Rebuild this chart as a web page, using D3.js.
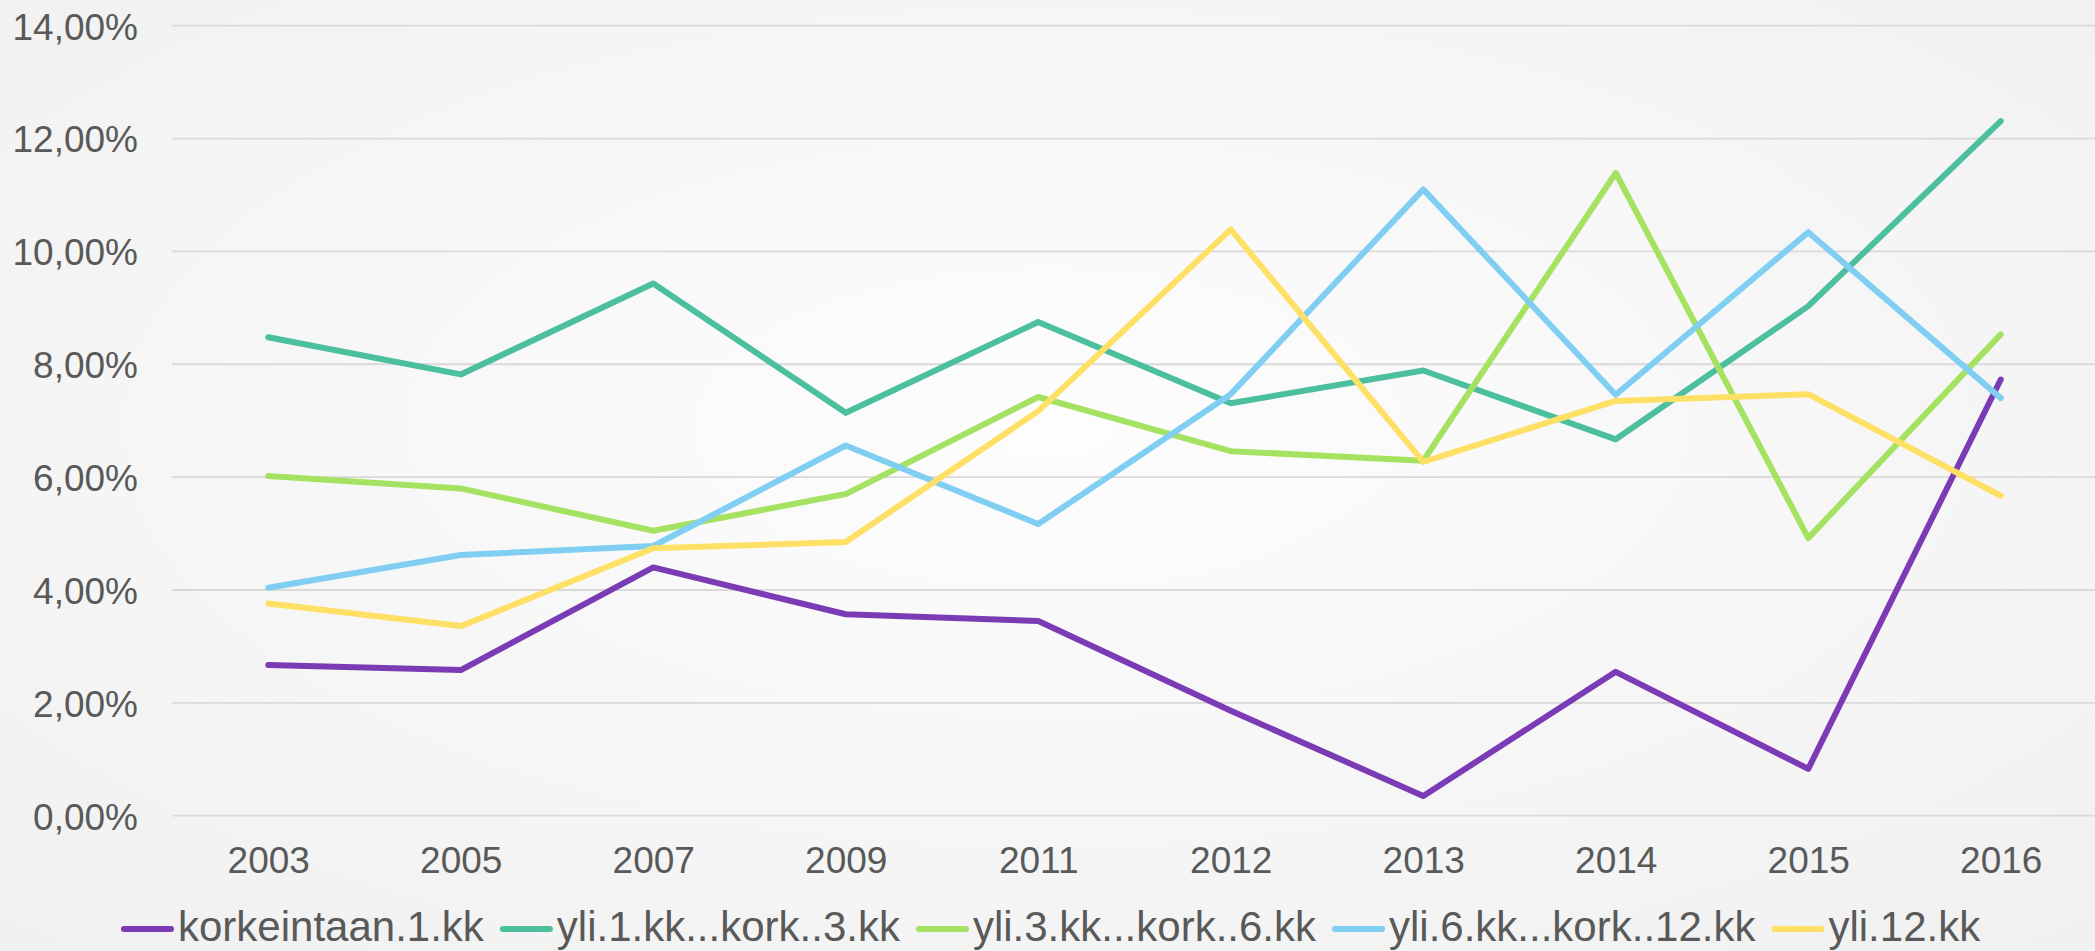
<!DOCTYPE html>
<html>
<head>
<meta charset="utf-8">
<script src="https://cdn.jsdelivr.net/npm/d3@7"></script>
<style>
  html, body { margin: 0; padding: 0; background: #f5f5f5; }
  svg { display: block; }
  text { font-family: "Liberation Sans", Arial, sans-serif; fill: #595959; }
</style>
</head>
<body>
<svg id="chart" width="2095" height="951"></svg>
<script>
// ---- data ----
const years = ["2003", "2005", "2007", "2009", "2011", "2012", "2013", "2014", "2015", "2016"];
const seriesNames = ["korkeintaan.1.kk", "yli.1.kk...kork..3.kk", "yli.3.kk...kork..6.kk", "yli.6.kk...kork..12.kk", "yli.12.kk"];
const korkeintaan1 = [2.67, 2.58, 4.40, 3.57, 3.45, 1.86, 0.35, 2.55, 0.83, 7.73];
const yli1kork3   = [8.48, 7.82, 9.43, 7.14, 8.75, 7.31, 7.89, 6.67, 9.03, 12.31];
const yli3kork6   = [6.02, 5.80, 5.05, 5.70, 7.42, 6.46, 6.29, 11.39, 4.92, 8.53];
const yli6kork12  = [4.04, 4.62, 4.78, 6.56, 5.17, 7.47, 11.10, 7.46, 10.34, 7.40];
const yli12       = [3.76, 3.36, 4.74, 4.85, 7.17, 10.39, 6.27, 7.35, 7.47, 5.67];
const yTicks = [0, 2, 4, 6, 8, 10, 12, 14];
const colors = ["#7b3bb4", "#4bbf9e", "#a5e262", "#80cff2", "#ffe066"];

const allSeries = [korkeintaan1, yli1kork3, yli3kork6, yli6kork12, yli12];

// ---- setup ----
const W = 2095, H = 951;
const svg = d3.select("#chart");

const defs = svg.append("defs");
const grad = defs.append("radialGradient").attr("id", "bg")
  .attr("cx", "50%").attr("cy", "45%").attr("r", "75%");
grad.append("stop").attr("offset", "0%").attr("stop-color", "#fdfdfd");
grad.append("stop").attr("offset", "100%").attr("stop-color", "#f0f0f0");
svg.append("rect").attr("width", W).attr("height", H).attr("fill", "url(#bg)");

const plotLeft = 172, plotRight = 2095;
const x = d3.scalePoint().domain(years).range([172, 2097]).padding(0.5);
const y = d3.scaleLinear().domain([0, 14]).range([815.7, 25.7]);

const fiLocale = d3.formatLocale({ decimal: ",", thousands: " ", grouping: [3], currency: ["", "€"] });
const fmt = v => fiLocale.format(".2f")(v) + "%";

// gridlines
svg.append("g").selectAll("line").data(yTicks).join("line")
  .attr("x1", plotLeft).attr("x2", plotRight)
  .attr("y1", d => y(d)).attr("y2", d => y(d))
  .attr("stroke", "#d9d9d9").attr("stroke-width", 1.8);

// y axis
const yAxis = svg.append("g").attr("transform", `translate(${plotLeft},0)`)
  .call(d3.axisLeft(y).tickValues(yTicks).tickFormat(fmt).tickSize(0).tickPadding(34));
yAxis.select(".domain").remove();
yAxis.selectAll("text").attr("font-size", 37).attr("dy", "0.36em")
  .style("font-family", '"Liberation Sans", Arial, sans-serif').attr("fill", "#595959");

// x axis
const xAxis = svg.append("g").attr("transform", `translate(0,${y(0)})`)
  .call(d3.axisBottom(x).tickSize(0).tickPadding(31));
xAxis.select(".domain").remove();
xAxis.selectAll("text").attr("font-size", 37)
  .style("font-family", '"Liberation Sans", Arial, sans-serif').attr("fill", "#595959");

// lines
const line = d3.line().x((d, i) => x(years[i])).y(d => y(d));
svg.append("g").selectAll("path").data(allSeries).join("path")
  .attr("d", d => line(d))
  .attr("fill", "none")
  .attr("stroke", (d, i) => colors[i])
  .attr("stroke-width", 6)
  .attr("stroke-linejoin", "round")
  .attr("stroke-linecap", "round");

// legend
const legend = svg.append("g");
let lx = 121;
const ly = 929;
seriesNames.forEach((name, i) => {
  legend.append("line")
    .attr("x1", lx + 3).attr("x2", lx + 50)
    .attr("y1", ly).attr("y2", ly)
    .attr("stroke", colors[i]).attr("stroke-width", 6).attr("stroke-linecap", "round");
  const t = legend.append("text")
    .attr("x", lx + 57).attr("y", 941)
    .attr("font-size", 42)
    .text(name);
  const w = t.node().getComputedTextLength();
  lx = lx + 57 + w + 16;
});
</script>
</body>
</html>
